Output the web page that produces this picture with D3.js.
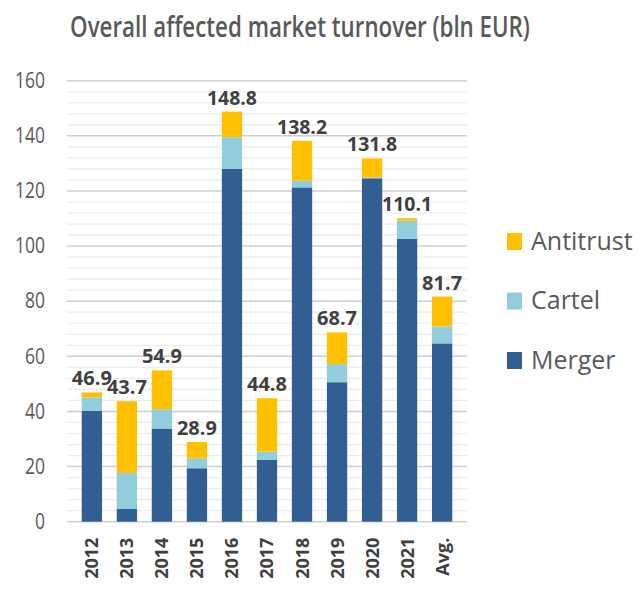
<!DOCTYPE html>
<html>
<head>
<meta charset="utf-8">
<script src="https://cdn.jsdelivr.net/npm/d3@7"></script>
<style>
  body { margin: 0; background: #fff; }
  svg { font-family: "Open Sans", "Liberation Sans", sans-serif; }
</style>
</head>
<body>
<script>
// data (bln EUR)
const categories = ["2012", "2013", "2014", "2015", "2016", "2017", "2018", "2019", "2020", "2021", "Avg."];
const merger    = [40.3, 4.6, 33.8, 19.4, 128.0, 22.5, 121.3, 50.6, 124.6, 102.6, 64.7];
const cartel    = [4.8, 13.1, 7.0, 3.6, 11.5, 2.9, 2.4, 6.6, 0.3, 6.6, 6.1];
const antitrust = [1.8, 26.0, 14.1, 5.9, 9.3, 19.4, 14.5, 11.5, 6.9, 0.9, 10.9];
const totals    = ["46.9", "43.7", "54.9", "28.9", "148.8", "44.8", "138.2", "68.7", "131.8", "110.1", "81.7"];
const seriesNames = ["Merger", "Cartel", "Antitrust"];
const yTicks = [0, 20, 40, 60, 80, 100, 120, 140, 160];

const colors = { Merger: "#325E93", Cartel: "#92CDDC", Antitrust: "#FFC000" };

const W = 639, H = 594;
const margin = { top: 80.7, right: 172, bottom: 72.3, left: 67 };
const width = W - margin.left - margin.right;
const height = H - margin.top - margin.bottom;

const svg = d3.select("body").append("svg")
  .attr("width", W)
  .attr("height", H);

// title: squeeze horizontally so it looks like the narrow original font
const title = svg.append("text")
  .attr("x", 0)
  .attr("y", 0)
  .attr("text-anchor", "middle")
  .attr("font-size", "28px")
  .attr("font-weight", 600)
  .attr("fill", "#595959")
  .text("Overall affected market turnover (bln EUR)");
const sx = 460 / title.node().getComputedTextLength();
title.attr("transform", `translate(300,37) scale(${sx},1)`);

const g = svg.append("g")
  .attr("transform", `translate(${margin.left},${margin.top})`);

const x = d3.scaleBand()
  .domain(categories)
  .range([0, width])
  .padding(0.42);

const y = d3.scaleLinear()
  .domain([0, 160])
  .range([height, 0]);

// minor grid every 4
g.append("g")
  .selectAll("line")
  .data(d3.range(0, 161, 4).filter(v => v % 20 !== 0))
  .join("line")
  .attr("x1", 0).attr("x2", width)
  .attr("y1", d => y(d)).attr("y2", d => y(d))
  .attr("stroke", "#ececec")
  .attr("stroke-width", 1.2);

// major grid
g.append("g")
  .selectAll("line")
  .data(yTicks)
  .join("line")
  .attr("x1", 0).attr("x2", width)
  .attr("y1", d => y(d)).attr("y2", d => y(d))
  .attr("stroke", "#cfcfcf")
  .attr("stroke-width", 1.5);

// y axis labels (narrow, tall digits like the original)
const yAxis = g.append("g")
  .call(d3.axisLeft(y).tickValues(yTicks).tickSize(0).tickPadding(22));
yAxis.select(".domain").remove();
yAxis.selectAll("text")
  .attr("font-size", "21px")
  .attr("fill", "#595959")
  .attr("font-family", "'Open Sans', sans-serif")
  .attr("textLength", d => String(d).length * 10)
  .attr("lengthAdjust", "spacingAndGlyphs");

// stacked bars
const rows = categories.map((c, i) => ({
  cat: c, Merger: merger[i], Cartel: cartel[i], Antitrust: antitrust[i]
}));
const stacked = d3.stack().keys(seriesNames)(rows);

g.selectAll(".series")
  .data(stacked)
  .join("g")
  .attr("class", "series")
  .attr("fill", d => colors[d.key])
  .selectAll("rect")
  .data(d => d)
  .join("rect")
  .attr("x", d => x(d.data.cat))
  .attr("y", d => y(d[1]))
  .attr("width", x.bandwidth())
  .attr("height", d => y(d[0]) - y(d[1]));

// total labels
g.append("g")
  .selectAll("text")
  .data(rows)
  .join("text")
  .attr("x", d => x(d.cat) + x.bandwidth() / 2)
  .attr("y", d => y(d.Merger + d.Cartel + d.Antitrust) - 7)
  .attr("text-anchor", "middle")
  .attr("font-size", "19px")
  .attr("font-weight", 700)
  .attr("fill", "#404040")
  .attr("font-family", "'Open Sans', sans-serif")
  .attr("textLength", (d, i) => totals[i].length * 10)
  .attr("lengthAdjust", "spacingAndGlyphs")
  .text((d, i) => totals[i]);

// x axis
const xAxis = g.append("g")
  .attr("transform", `translate(0,${height})`)
  .call(d3.axisBottom(x).tickSize(0));
xAxis.select(".domain").remove();
xAxis.selectAll("text")
  .attr("transform", "rotate(-90)")
  .attr("text-anchor", "end")
  .attr("dx", "-16px")
  .attr("dy", "0.36em")
  .attr("y", 0)
  .attr("x", 0)
  .attr("font-size", "18px")
  .attr("font-weight", 700)
  .attr("fill", "#404040")
  .attr("font-family", "'Open Sans', sans-serif");

// legend
const legendNames = ["Antitrust", "Cartel", "Merger"];
const legend = svg.append("g")
  .selectAll("g")
  .data(legendNames)
  .join("g")
  .attr("transform", (d, i) => `translate(507,${241 + i * 59.5})`);

legend.append("rect")
  .attr("x", 0).attr("y", -8)
  .attr("width", 15).attr("height", 17)
  .attr("fill", d => colors[d]);

legend.append("text")
  .attr("x", 24)
  .attr("y", 0)
  .attr("dy", "0.35em")
  .attr("font-size", "25px")
  .attr("fill", "#595959")
  .text(d => d);
</script>
</body>
</html>
